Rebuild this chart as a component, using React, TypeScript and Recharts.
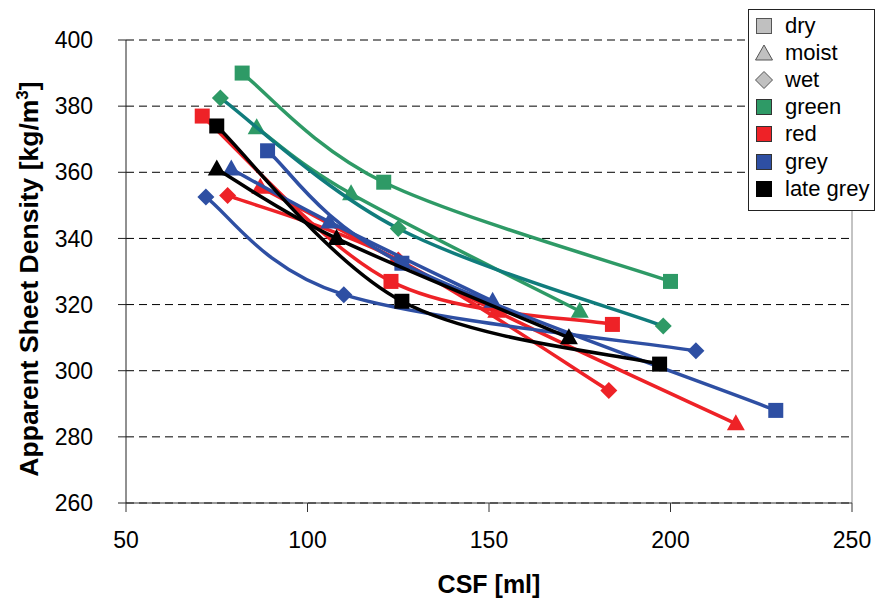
import React from 'react';
import { ScatterChart, Scatter, XAxis, YAxis, CartesianGrid, ReferenceLine } from 'recharts';

const xTicks = [50, 100, 150, 200, 250];
const yTicks = [260, 280, 300, 320, 340, 360, 380, 400];
const legendLabels = ['dry', 'moist', 'wet', 'green', 'red', 'grey', 'late grey'];

// CSF [ml] vs apparent sheet density [kg/m3]
const greenDry = [{ x: 82, y: 390 }, { x: 121, y: 357 }, { x: 200, y: 327 }];
const greenMoist = [{ x: 86, y: 373.5 }, { x: 112, y: 353.5 }, { x: 175, y: 318 }];
const greenWet = [{ x: 76, y: 382.5 }, { x: 125, y: 343 }, { x: 198, y: 313.5 }];
const redDry = [{ x: 71, y: 377 }, { x: 123, y: 327 }, { x: 184, y: 314 }];
const redMoist = [{ x: 87, y: 355.5 }, { x: 152, y: 318 }, { x: 218, y: 284 }];
const redWet = [{ x: 78, y: 353 }, { x: 125, y: 333.5 }, { x: 183, y: 294 }];
const greyDry = [{ x: 89, y: 366.5 }, { x: 126, y: 332.5 }, { x: 229, y: 288 }];
const greyMoist = [{ x: 79, y: 361 }, { x: 106, y: 345 }, { x: 151, y: 321 }];
const greyWet = [{ x: 72, y: 352.5 }, { x: 110, y: 323 }, { x: 207, y: 306 }];
const lateGreyDry = [{ x: 75, y: 374 }, { x: 126, y: 321 }, { x: 197, y: 302 }];
const lateGreyMoist = [{ x: 75, y: 361 }, { x: 108, y: 340 }, { x: 172, y: 310 }];

const GREEN = '#2e9a66';
const TEAL = '#107c7c';
const RED = '#ee2227';
const BLUE = '#2e4fa3';
const BLACK = '#000000';
const FONT = '"Liberation Sans", Arial, sans-serif';

// excel-like smoothed line (catmull-rom style bezier)
const excelSmooth: any = (context: any) => {
  let pts: number[][] = [];
  return {
    areaStart() {},
    areaEnd() {},
    lineStart() { pts = []; },
    point(x: number, y: number) { pts.push([+x, +y]); },
    lineEnd() {
      if (!pts.length) return;
      context.moveTo(pts[0][0], pts[0][1]);
      for (let i = 0; i < pts.length - 1; i++) {
        const p0 = pts[i - 1] || pts[i];
        const p1 = pts[i];
        const p2 = pts[i + 1];
        const p3 = pts[i + 2] || p2;
        context.bezierCurveTo(
          p1[0] + (p2[0] - p0[0]) / 6, p1[1] + (p2[1] - p0[1]) / 6,
          p2[0] - (p3[0] - p1[0]) / 6, p2[1] - (p3[1] - p1[1]) / 6,
          p2[0], p2[1],
        );
      }
    },
  };
};

const square = (color: string) => (p: any) => (
  <rect x={p.cx - 7.5} y={p.cy - 7.5} width={15} height={15} fill={color} />
);
const triangle = (color: string) => (p: any) => (
  <polygon points={`${p.cx},${p.cy - 9.5} ${p.cx + 9},${p.cy + 6.5} ${p.cx - 9},${p.cy + 6.5}`} fill={color} />
);
const diamond = (color: string) => (p: any) => (
  <polygon points={`${p.cx},${p.cy - 8.5} ${p.cx + 8.5},${p.cy} ${p.cx},${p.cy + 8.5} ${p.cx - 8.5},${p.cy}`} fill={color} />
);

const series = [
  { name: 'green dry', data: greenDry, line: GREEN, shape: square(GREEN) },
  { name: 'green moist', data: greenMoist, line: GREEN, shape: triangle(GREEN) },
  { name: 'green wet', data: greenWet, line: TEAL, shape: diamond(GREEN) },
  { name: 'red dry', data: redDry, line: RED, shape: square(RED) },
  { name: 'red moist', data: redMoist, line: RED, shape: triangle(RED) },
  { name: 'red wet', data: redWet, line: RED, shape: diamond(RED) },
  { name: 'grey dry', data: greyDry, line: BLUE, shape: square(BLUE) },
  { name: 'grey moist', data: greyMoist, line: BLUE, shape: triangle(BLUE) },
  { name: 'grey wet', data: greyWet, line: BLUE, shape: diamond(BLUE) },
  { name: 'late grey dry', data: lateGreyDry, line: BLACK, shape: square(BLACK) },
  { name: 'late grey moist', data: lateGreyMoist, line: BLACK, shape: triangle(BLACK) },
];

const legendMarks = [
  { kind: 'square', fill: '#c0c0c0', stroke: '#555' },
  { kind: 'triangle', fill: '#c0c0c0', stroke: '#555' },
  { kind: 'diamond', fill: '#c0c0c0', stroke: '#555' },
  { kind: 'square', fill: GREEN, stroke: '#333' },
  { kind: 'square', fill: RED, stroke: '#333' },
  { kind: 'square', fill: BLUE, stroke: '#333' },
  { kind: 'square', fill: BLACK, stroke: '#000' },
];

const LegendMark = ({ kind, fill, stroke }: any) => (
  <svg width={20} height={20} style={{ display: 'block' }}>
    {kind === 'square' && <rect x={2.5} y={2.5} width={15} height={15} fill={fill} stroke={stroke} />}
    {kind === 'triangle' && <polygon points="10,2 18.5,17 1.5,17" fill={fill} stroke={stroke} />}
    {kind === 'diamond' && <polygon points="10,1.5 18.5,10 10,18.5 1.5,10" fill={fill} stroke={stroke} />}
  </svg>
);

export default function App() {
  return (
    <div style={{ position: 'absolute', left: 0, top: 0, width: 876, height: 602, background: '#fff', fontFamily: FONT }}>
      <ScatterChart width={876} height={602} margin={{ top: 40, right: 24, bottom: 0, left: 0 }}>
        <CartesianGrid vertical={false} stroke="#000" strokeDasharray="8 5" />
        <XAxis
          type="number"
          dataKey="x"
          domain={[50, 250]}
          ticks={xTicks}
          height={99}
          tickSize={9}
          tickMargin={20}
          stroke="#333"
          tick={{ fill: '#000', fontSize: 23, fontFamily: FONT }}
        />
        <YAxis
          type="number"
          dataKey="y"
          domain={[260, 400]}
          ticks={yTicks}
          width={126}
          tickSize={8}
          tickMargin={25}
          stroke="#222"
          tick={{ fill: '#000', fontSize: 23, fontFamily: FONT }}
        />
        <ReferenceLine x={250} stroke="#888" />
        {series.map((s) => (
          <Scatter
            key={s.name}
            name={s.name}
            data={s.data}
            fill={s.line}
            line={{ stroke: s.line, strokeWidth: 3.5 }}
            lineJointType={excelSmooth}
            shape={s.shape}
            isAnimationActive={false}
          />
        ))}
        <text x={489} y={593} textAnchor="middle" fontSize={25} fontWeight="bold" fontFamily={FONT} fill="#000">
          CSF [ml]
        </text>
        <text x={38} y={279} transform="rotate(-90, 38, 279)" textAnchor="middle" fontSize={26.5} fontWeight="bold" fontFamily={FONT} fill="#000">
          Apparent Sheet Density [kg/m<tspan dy={-10} fontSize={17}>3</tspan><tspan dy={10}>]</tspan>
        </text>
      </ScatterChart>
      <div
        style={{
          position: 'absolute', left: 748, top: 9, width: 127, height: 202,
          border: '1px solid #222', background: '#fff', boxSizing: 'border-box', paddingTop: 2,
        }}
      >
        {legendLabels.map((label, i) => (
          <div key={label} style={{ display: 'flex', alignItems: 'center', height: 27.2 }}>
            <div style={{ marginLeft: 5, marginRight: 11 }}>
              <LegendMark {...legendMarks[i]} />
            </div>
            <span style={{ fontSize: 22, color: '#000', lineHeight: 1 }}>{label}</span>
          </div>
        ))}
      </div>
    </div>
  );
}
